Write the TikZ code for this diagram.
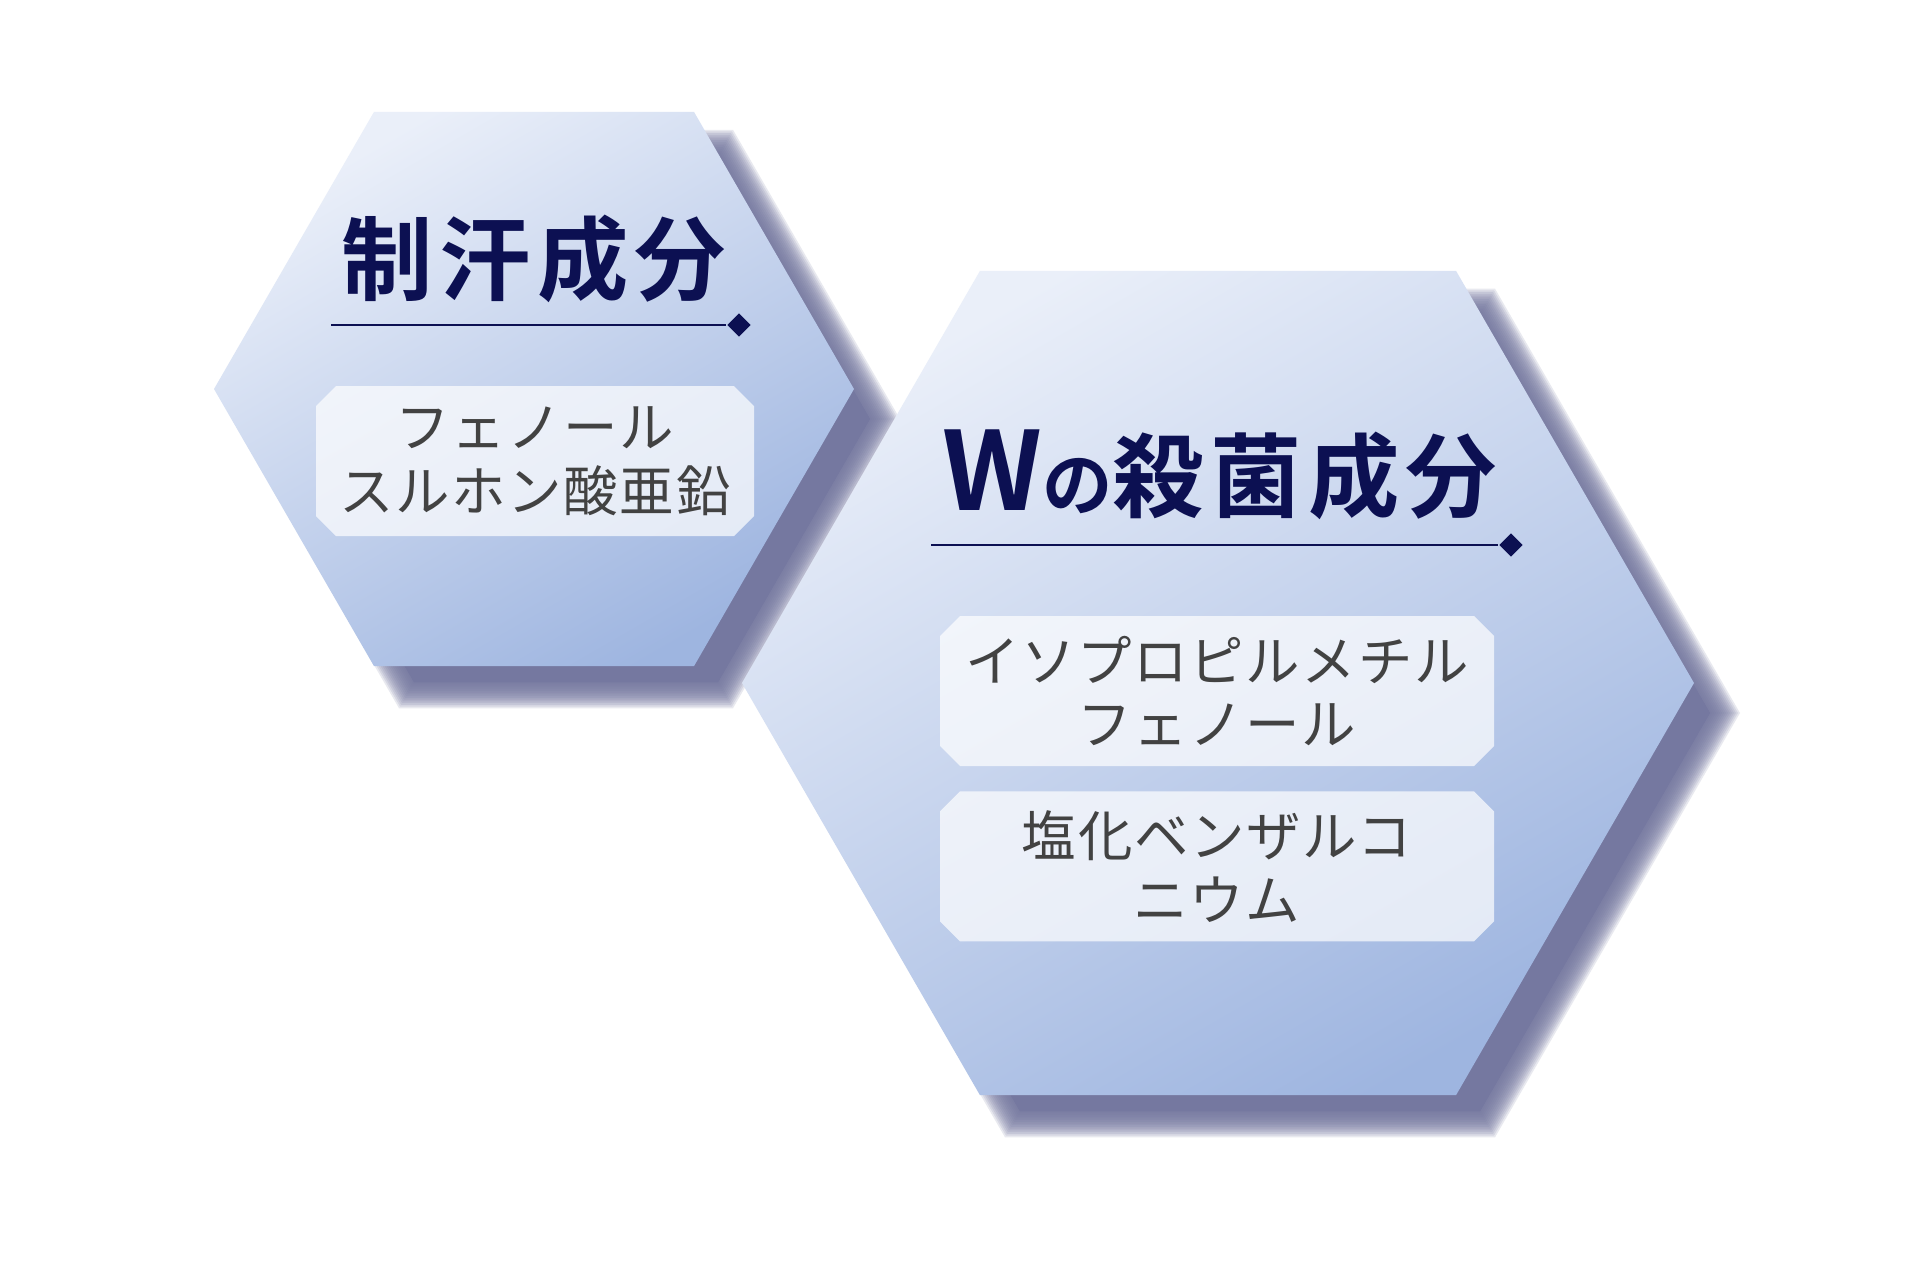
\documentclass[tikz,border=0pt]{standalone}
\usepackage{fontspec}
\usepackage{tikz}
\usetikzlibrary{shapes.geometric, shapes.misc, positioning, calc}
\newfontfamily\jpfont{Noto Sans CJK JP}[BoldFont={Noto Sans CJK JP Bold}]
\definecolor{hexnavy}{RGB}{12,16,82}
\definecolor{hexlight}{RGB}{234,239,249}
\definecolor{hexdark}{RGB}{158,181,224}
\definecolor{hexshadow}{RGB}{117,120,160}
\definecolor{itemgray}{RGB}{66,66,66}
\tikzset{
  hexcell/.style={regular polygon, regular polygon sides=6, inner sep=0pt,
    outer sep=0pt, top color=hexlight, bottom color=hexdark, shading angle=30},
  hexshade/.style={regular polygon, regular polygon sides=6, inner sep=0pt,
    outer sep=0pt, fill=hexshadow, draw=none},
  hextitle/.style={font=\jpfont\bfseries\addfontfeature{LetterSpace=7}\fontsize{26}{30}\selectfont,
    text=hexnavy, inner sep=0pt},
  itembox/.style={chamfered rectangle, chamfered rectangle xsep=1mm,
    chamfered rectangle ysep=1mm, fill=white, fill opacity=0.7, text opacity=1,
    minimum height=15mm, align=center, text=itemgray, inner sep=0pt,
    font=\jpfont\addfontfeature{LetterSpace=3}\fontsize{15.5}{18.2}\selectfont},
  rule/.style={hexnavy, line width=0.45pt},
  ruletip/.style={diamond, fill=hexnavy, inner sep=0pt, minimum size=2.4mm}
}

\begin{document}
\begin{tikzpicture}[x=0.1mm, y=-0.1mm]
  \useasboundingbox (0,0) rectangle (1920,1280);
  \fill[white] (0,0) rectangle (1920,1280);

  % 制汗成分
  \coordinate (sweatc) at (534,389);
  \node[hexshade, minimum size=64mm-3.2mm] (sweatcore) at ($(sweatc)+(32,30)$) {};
  \foreach \g in {-14,-12,...,14}
    \node[hexshade, minimum size=64mm+\g*0.2mm, opacity=0.16] (sweatshade) at ($(sweatc)+(32,30)$) {};
  \node[hexcell, minimum size=64mm] (sweathex) at (sweatc) {};
  \node[hextitle] (sweattitle) at (534,259) {制汗成分};
  \coordinate (sweatrule) at (331,325);
  \node[ruletip] (sweattip) at (739,325) {};
  \draw[rule] (sweatrule) -- (sweattip);
  \node[itembox, minimum width=43.8mm] (sweatitem) at (535,461) {フェノール\\スルホン酸亜鉛};

  % Wの殺菌成分
  \coordinate (germc) at (1218,683);
  \node[hexshade, minimum size=95.2mm-3.2mm] (germcore) at ($(germc)+(32,30)$) {};
  \foreach \g in {-14,-12,...,14}
    \node[hexshade, minimum size=95.2mm+\g*0.2mm, opacity=0.16] (germshade) at ($(germc)+(32,30)$) {};
  \node[hexcell, minimum size=95.2mm] (germhex) at (germc) {};
  \node[hextitle] (germtitle) at (1220,475)
    {{\fontsize{31}{31}\selectfont W}{\fontsize{20}{20}\selectfont の}殺菌成分};
  \coordinate (germrule) at (931,545);
  \node[ruletip] (germtip) at (1511,545) {};
  \draw[rule] (germrule) -- (germtip);
  \node[itembox, minimum width=55.4mm] (germitema) at (1217,691) {イソプロピルメチル\\フェノール};
  \node[itembox, minimum width=55.4mm, below=2.4mm of germitema] (germitemb) {塩化ベンザルコ\\ニウム};
\end{tikzpicture}
\end{document}
